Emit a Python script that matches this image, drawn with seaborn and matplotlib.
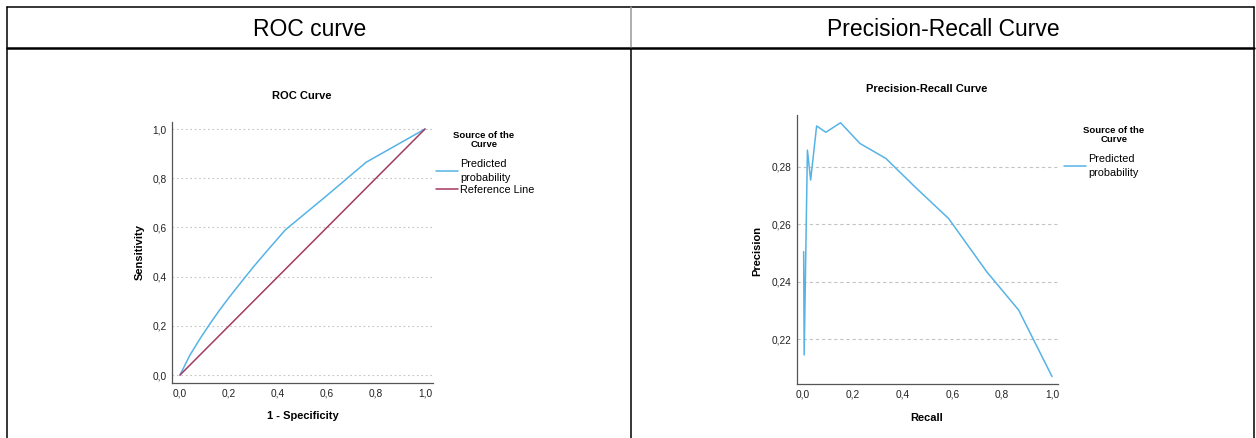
import pandas as pd
import seaborn as sns
import matplotlib.pyplot as plt
from matplotlib.lines import Line2D
from matplotlib.ticker import FuncFormatter

# ROC curve
roc_fpr = [0.0, 0.04, 0.08, 0.12, 0.16, 0.2, 0.25, 0.3, 0.36, 0.43, 0.6, 0.76, 1.0]
roc_tpr = [0.0, 0.08, 0.145, 0.205, 0.262, 0.315, 0.378, 0.44, 0.51, 0.59, 0.73, 0.865, 1.0]
ref_line = [0.0, 1.0]

# Precision-recall curve
pr_recall = [0.003, 0.005, 0.018, 0.031, 0.055, 0.092, 0.151, 0.229, 0.333,
             0.45, 0.585, 0.738, 0.866, 0.96, 1.0]
pr_precision = [0.2505, 0.2146, 0.2858, 0.2754, 0.2942, 0.2920, 0.2953, 0.2881,
                0.2829, 0.2730, 0.2620, 0.2435, 0.2302, 0.2140, 0.2071]

headers = ["ROC curve", "Precision-Recall Curve"]
series_names = ["Predicted\nprobability", "Reference Line"]
legend_title = "Source of the\nCurve"

BLUE = "#56b3e6"
RED = "#a33a62"

W, H = 1256, 438

sns.set_theme(style="white")
plt.rcParams["font.family"] = ["Liberation Sans", "DejaVu Sans"]
plt.rcParams["text.color"] = "black"


def fx(x):
    return x / W


def fy(y):
    return 1 - y / H


def axes_rect(left, top, right, bottom):
    return [fx(left), fy(bottom), (right - left) / W, (bottom - top) / H]


comma = FuncFormatter(lambda v, p: f"{v:.1f}".replace(".", ","))
comma2 = FuncFormatter(lambda v, p: f"{v:.2f}".replace(".", ","))

fig = plt.figure(figsize=(W / 100, H / 100), dpi=100)

# table frame
lc = "black"
fig.add_artist(Line2D([fx(6.5), fx(1254)], [fy(6.5), fy(6.5)], color=lc, lw=1.1))
fig.add_artist(Line2D([fx(6.5), fx(1254)], [fy(48), fy(48)], color=lc, lw=1.8))
fig.add_artist(Line2D([fx(6.5), fx(6.5)], [fy(6.5), fy(438)], color=lc, lw=1.1))
fig.add_artist(Line2D([fx(1254), fx(1254)], [fy(6.5), fy(438)], color=lc, lw=1.1))
fig.add_artist(Line2D([fx(631), fx(631)], [fy(6.5), fy(48)], color="#999999", lw=1.1))
fig.add_artist(Line2D([fx(631), fx(631)], [fy(48), fy(438)], color=lc, lw=1.1))

fig.text(fx(310), fy(29), headers[0], ha="center", va="center", fontsize=16.5)
fig.text(fx(943), fy(29), headers[1], ha="center", va="center", fontsize=16.5)


def style_axes(ax, grid_style):
    sns.despine(ax=ax)
    for s in ["left", "bottom"]:
        ax.spines[s].set_color("#555555")
        ax.spines[s].set_linewidth(0.9)
    ax.tick_params(length=0, labelsize=7.3, colors="#222222", pad=4)
    ax.grid(axis="y", color="#c4c4c4", linestyle=grid_style, linewidth=0.8)
    ax.set_axisbelow(True)
    ax.set_xlabel("")
    ax.set_ylabel("")


def add_legend(ax, handles, labels, title_xy, anchor):
    fig.text(fx(title_xy[0]), fy(title_xy[1]), legend_title, ha="center",
             va="top", fontsize=6.8, fontweight="bold", linespacing=0.95,
             multialignment="center")
    leg = ax.legend(handles, labels, loc="upper left",
                    bbox_to_anchor=(fx(anchor[0]), fy(anchor[1])),
                    bbox_transform=fig.transFigure, frameon=False,
                    fontsize=7.8, handlelength=2.0, handletextpad=0.2,
                    labelspacing=0.2, borderpad=0, borderaxespad=0)
    for t in leg.get_texts():
        t.set_linespacing(1.5)
    return leg


# ROC panel
ax1 = fig.add_axes(axes_rect(172, 122, 433, 383))
roc_df = pd.DataFrame({
    "x": roc_fpr + ref_line,
    "y": roc_tpr + ref_line,
    "Source of the Curve": [series_names[0]] * len(roc_fpr) + [series_names[1]] * 2,
})
sns.lineplot(data=roc_df, x="x", y="y", hue="Source of the Curve",
             palette=[BLUE, RED], estimator=None, sort=False, lw=1.1, ax=ax1)
ax1.set_xlim(-0.0327, 1.0327)
ax1.set_ylim(-0.0325, 1.0285)
ax1.set_xticks([0, 0.2, 0.4, 0.6, 0.8, 1.0])
ax1.set_yticks([0, 0.2, 0.4, 0.6, 0.8, 1.0])
ax1.xaxis.set_major_formatter(comma)
ax1.yaxis.set_major_formatter(comma)
style_axes(ax1, (0, (1.5, 2.5)))
ax1.legend_.remove()

fig.text(fx(302), fy(96), "ROC Curve", ha="center", va="center",
         fontsize=8, fontweight="bold")
fig.text(fx(303), fy(416), "1 - Specificity", ha="center", va="center",
         fontsize=8, fontweight="bold")
fig.text(fx(140), fy(252), "Sensitivity", ha="center", va="center",
         fontsize=8, fontweight="bold", rotation=90)

h1 = [Line2D([], [], color=BLUE, lw=1.1), Line2D([], [], color=RED, lw=1.1)]
add_legend(ax1, h1, series_names, (484, 131), (436, 158.5))

# Precision-recall panel
ax2 = fig.add_axes(axes_rect(796.7, 115, 1058, 384))
pr_df = pd.DataFrame({"Recall": pr_recall, "Precision": pr_precision,
                      "Source of the Curve": series_names[0]})
sns.lineplot(data=pr_df, x="Recall", y="Precision", hue="Source of the Curve",
             palette=[BLUE], estimator=None, sort=False, lw=1.1, ax=ax2)
ax2.set_xlim(-0.025, 1.024)
ax2.set_ylim(0.2045, 0.298)
ax2.set_xticks([0, 0.2, 0.4, 0.6, 0.8, 1.0])
ax2.set_yticks([0.22, 0.24, 0.26, 0.28])
ax2.xaxis.set_major_formatter(comma)
ax2.yaxis.set_major_formatter(comma2)
style_axes(ax2, (0, (3, 2.5)))
ax2.legend_.remove()

fig.text(fx(927), fy(89), "Precision-Recall Curve", ha="center", va="center",
         fontsize=8, fontweight="bold")
fig.text(fx(927), fy(418), "Recall", ha="center", va="center",
         fontsize=8, fontweight="bold")
fig.text(fx(757), fy(251), "Precision", ha="center", va="center",
         fontsize=8, fontweight="bold", rotation=90)

h2 = [Line2D([], [], color=BLUE, lw=1.1)]
add_legend(ax2, h2, series_names[:1], (1114, 126), (1064, 153.5))

fig.savefig("out.png", dpi=100)
